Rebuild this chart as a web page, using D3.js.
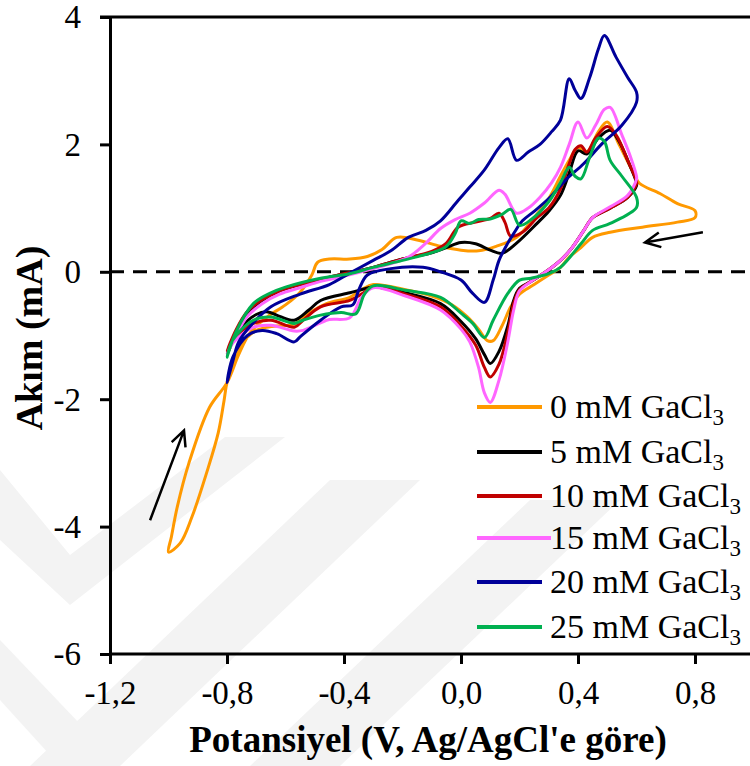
<!DOCTYPE html>
<head>
  <meta charset="utf-8">
  <script src="https://d3js.org/d3.v7.min.js"></script>
  <style>
    body { margin:0; background:#fff; }
    svg { display:block; font-family:"Liberation Serif","Times New Roman",serif; }
  </style>
</head>
<body>
<script>
// series labels / colours, in legend order
var concs = ["0", "5", "10", "15", "20", "25"];
var colors = ["#ff9900", "#000000", "#c00000", "#ff66ff", "#000099", "#00b050"];
var xTicks = [-1.2, -0.8, -0.4, 0, 0.4, 0.8];
var yTicks = [-6, -4, -2, 0, 2, 4];

// cyclic voltammograms [V, mA]
var cv0 = [[0.80,0.85],[0.74,0.78],[0.62,0.70],[0.51,0.62],[0.45,0.54],[0.41,0.38],[0.37,0.23],[0.34,0.07],[0.30,-0.05],[0.25,-0.20],[0.20,-0.35],[0.17,-0.55],[0.14,-0.85],[0.11,-1.08],[0.09,-1.08],[0.06,-0.90],[0.02,-0.70],[-0.03,-0.52],[-0.10,-0.38],[-0.19,-0.28],[-0.30,-0.20],[-0.34,-0.28],[-0.38,-0.40],[-0.46,-0.50],[-0.52,-0.65],[-0.57,-0.82],[-0.63,-0.85],[-0.70,-0.92],[-0.76,-1.20],[-0.78,-1.50],[-0.80,-1.74],[-0.81,-2.02],[-0.83,-2.53],[-0.87,-3.16],[-0.92,-3.85],[-0.96,-4.26],[-1.00,-4.40],[-0.99,-4.16],[-0.97,-3.69],[-0.93,-3.00],[-0.86,-2.13],[-0.80,-1.74],[-0.76,-1.30],[-0.72,-0.95],[-0.66,-0.70],[-0.60,-0.52],[-0.55,-0.32],[-0.51,-0.05],[-0.49,0.15],[-0.45,0.20],[-0.38,0.20],[-0.32,0.24],[-0.27,0.35],[-0.22,0.54],[-0.15,0.50],[-0.07,0.40],[0.00,0.34],[0.06,0.33],[0.12,0.40],[0.19,0.54],[0.25,0.85],[0.30,1.15],[0.34,1.50],[0.37,1.75],[0.40,1.95],[0.43,1.88],[0.47,2.20],[0.50,2.35],[0.54,2.00],[0.59,1.55],[0.61,1.39],[0.68,1.23],[0.74,1.07],[0.80,0.96]];
var cv5 = [[-0.80,-1.30],[-0.77,-0.95],[-0.73,-0.65],[-0.68,-0.45],[-0.62,-0.30],[-0.55,-0.20],[-0.48,-0.12],[-0.40,-0.03],[-0.30,0.07],[-0.20,0.20],[-0.10,0.30],[-0.05,0.38],[0.00,0.46],[0.05,0.44],[0.10,0.34],[0.14,0.29],[0.19,0.45],[0.26,0.76],[0.30,0.95],[0.34,1.20],[0.37,1.55],[0.40,1.90],[0.43,1.85],[0.47,2.10],[0.51,2.22],[0.54,2.05],[0.57,1.75],[0.60,1.40],[0.60,1.35],[0.57,1.17],[0.51,1.00],[0.45,0.85],[0.42,0.65],[0.38,0.38],[0.34,0.18],[0.29,0.00],[0.24,-0.15],[0.20,-0.26],[0.18,-0.45],[0.16,-0.85],[0.13,-1.25],[0.10,-1.44],[0.08,-1.30],[0.05,-1.05],[0.00,-0.78],[-0.07,-0.50],[-0.19,-0.33],[-0.30,-0.24],[-0.34,-0.28],[-0.38,-0.33],[-0.48,-0.45],[-0.52,-0.60],[-0.57,-0.76],[-0.62,-0.70],[-0.66,-0.63],[-0.70,-0.67],[-0.76,-0.92]];
var cv10 = [[-0.80,-1.25],[-0.77,-0.92],[-0.73,-0.62],[-0.68,-0.44],[-0.62,-0.30],[-0.55,-0.20],[-0.48,-0.12],[-0.40,-0.03],[-0.30,0.07],[-0.20,0.20],[-0.10,0.32],[-0.05,0.45],[-0.01,0.70],[0.05,0.78],[0.10,0.84],[0.13,0.92],[0.15,0.78],[0.17,0.56],[0.21,0.62],[0.26,0.85],[0.30,1.00],[0.34,1.30],[0.37,1.70],[0.39,1.92],[0.41,1.98],[0.43,1.88],[0.46,2.10],[0.50,2.28],[0.53,2.15],[0.57,1.75],[0.60,1.42],[0.60,1.38],[0.57,1.17],[0.51,1.00],[0.45,0.85],[0.42,0.65],[0.38,0.38],[0.34,0.18],[0.29,0.00],[0.24,-0.15],[0.20,-0.28],[0.18,-0.50],[0.16,-0.95],[0.13,-1.45],[0.10,-1.65],[0.08,-1.50],[0.05,-1.15],[0.00,-0.85],[-0.07,-0.55],[-0.19,-0.35],[-0.30,-0.24],[-0.34,-0.35],[-0.38,-0.45],[-0.48,-0.55],[-0.54,-0.76],[-0.57,-0.87],[-0.65,-0.76],[-0.71,-0.81],[-0.78,-1.07]];
var cv15 = [[-0.80,-1.30],[-0.77,-1.00],[-0.73,-0.70],[-0.68,-0.50],[-0.62,-0.35],[-0.55,-0.25],[-0.48,-0.15],[-0.41,-0.08],[-0.30,0.05],[-0.18,0.23],[-0.12,0.45],[-0.07,0.68],[-0.02,0.82],[0.03,0.92],[0.08,1.08],[0.13,1.28],[0.15,1.22],[0.19,0.92],[0.23,1.00],[0.27,1.17],[0.31,1.40],[0.34,1.64],[0.37,2.00],[0.40,2.35],[0.43,2.10],[0.46,2.30],[0.49,2.55],[0.51,2.58],[0.55,2.15],[0.58,1.80],[0.60,1.50],[0.60,1.45],[0.57,1.20],[0.51,1.02],[0.45,0.85],[0.42,0.65],[0.38,0.38],[0.34,0.18],[0.29,0.00],[0.24,-0.15],[0.20,-0.30],[0.18,-0.60],[0.16,-1.10],[0.13,-1.70],[0.10,-2.05],[0.08,-1.90],[0.06,-1.50],[0.03,-1.10],[0.00,-0.90],[-0.07,-0.60],[-0.19,-0.38],[-0.30,-0.25],[-0.34,-0.40],[-0.38,-0.72],[-0.45,-0.75],[-0.48,-0.80],[-0.54,-0.92],[-0.57,-0.93],[-0.65,-0.84],[-0.71,-0.87],[-0.78,-1.12]];
var cv20 = [[-0.80,-1.74],[-0.78,-1.40],[-0.76,-1.10],[-0.72,-0.85],[-0.65,-0.55],[-0.55,-0.35],[-0.45,-0.20],[-0.38,-0.02],[-0.30,0.18],[-0.24,0.33],[-0.18,0.54],[-0.12,0.65],[-0.07,0.80],[-0.01,1.12],[0.03,1.33],[0.08,1.60],[0.13,1.95],[0.16,2.09],[0.19,1.75],[0.23,1.88],[0.27,2.00],[0.31,2.20],[0.34,2.38],[0.37,3.03],[0.39,2.85],[0.41,2.72],[0.44,3.05],[0.47,3.50],[0.49,3.71],[0.53,3.37],[0.57,3.05],[0.60,2.82],[0.60,2.66],[0.55,2.30],[0.48,2.00],[0.42,1.70],[0.36,1.45],[0.30,1.15],[0.25,0.95],[0.21,0.80],[0.18,0.60],[0.16,0.45],[0.13,0.18],[0.11,-0.13],[0.08,-0.48],[0.04,-0.34],[0.00,-0.13],[-0.07,0.00],[-0.13,0.07],[-0.24,0.05],[-0.32,-0.05],[-0.35,-0.29],[-0.37,-0.52],[-0.41,-0.55],[-0.48,-0.76],[-0.55,-1.02],[-0.57,-1.10],[-0.63,-0.97],[-0.68,-0.92],[-0.73,-1.00],[-0.78,-1.34]];
var cv25 = [[-0.80,-1.34],[-0.77,-0.95],[-0.71,-0.50],[-0.65,-0.33],[-0.60,-0.24],[-0.48,-0.10],[-0.38,-0.03],[-0.30,0.07],[-0.20,0.18],[-0.10,0.30],[-0.05,0.40],[-0.02,0.60],[0.00,0.80],[0.03,0.76],[0.06,0.82],[0.10,0.83],[0.14,0.90],[0.17,0.98],[0.20,0.73],[0.24,0.82],[0.30,1.10],[0.34,1.40],[0.37,1.64],[0.39,1.50],[0.41,1.46],[0.44,1.80],[0.47,2.10],[0.49,2.05],[0.51,1.75],[0.55,1.50],[0.60,1.17],[0.60,1.01],[0.51,0.76],[0.45,0.65],[0.41,0.44],[0.34,0.07],[0.30,-0.03],[0.24,-0.10],[0.20,-0.13],[0.16,-0.34],[0.11,-0.76],[0.08,-1.03],[0.04,-0.81],[0.00,-0.65],[-0.07,-0.40],[-0.19,-0.29],[-0.30,-0.22],[-0.33,-0.35],[-0.36,-0.66],[-0.41,-0.64],[-0.48,-0.68],[-0.54,-0.76],[-0.57,-0.81],[-0.65,-0.71],[-0.71,-0.76],[-0.78,-1.07]];
var curves = [cv0, cv5, cv10, cv15, cv20, cv25];

// scan direction arrows [from, to] in data units
var arrowUp = [[-1.063, -3.90], [-0.947, -2.49]];
var arrowLeft = [[0.827, 0.62], [0.629, 0.46]];

var W = 750, H = 766;
var svg = d3.select("body").append("svg").attr("width", W).attr("height", H);

// faint watermark bands in the background
var wm = svg.append("g").attr("fill", "#f3f3f3");
[
  [[0,470],[0,540],[70,605],[285,437],[225,437],[70,555]],
  [[30,766],[120,766],[420,480],[330,480]],
  [[250,766],[340,766],[620,500],[530,500]],
  [[0,640],[0,700],[60,766],[120,766]]
].forEach(function(p){ wm.append("polygon").attr("points", p.join(" ")); });

var x = d3.scaleLinear().domain([-1.2, 1.0]).range([110, 753.5]);
var y = d3.scaleLinear().domain([-6, 4]).range([654, 17]);

var fmtX = function(v){ return (v < 0 ? "-" : "") + Math.abs(v).toFixed(1).replace(".", ","); };
var fmtY = function(v){ return (v < 0 ? "-" : "") + Math.abs(v); };

// zero line
svg.append("line")
  .attr("x1", x(-1.2)).attr("x2", W).attr("y1", y(0)).attr("y2", y(0))
  .attr("stroke", "#000").attr("stroke-width", 3).attr("stroke-dasharray", "14,9");

// curves
var line = d3.line().x(function(d){ return x(d[0]); }).y(function(d){ return y(d[1]); })
  .curve(d3.curveCatmullRomClosed.alpha(0.5));

svg.append("g").selectAll("path").data(curves).enter().append("path")
  .attr("d", line)
  .attr("fill", "none")
  .attr("stroke", function(d, i){ return colors[i]; })
  .attr("stroke-width", 3)
  .attr("stroke-linejoin", "round");

// axes
var xAxis = svg.append("g").attr("transform", "translate(0," + y(-6) + ")")
  .call(d3.axisBottom(x).tickValues(xTicks).tickFormat(fmtX).tickSize(10).tickSizeOuter(0));
var yAxis = svg.append("g").attr("transform", "translate(" + x(-1.2) + ",0)")
  .call(d3.axisLeft(y).tickValues(yTicks).tickFormat(fmtY).tickSize(10).tickSizeOuter(0));
[xAxis, yAxis].forEach(function(a){
  a.select(".domain").attr("stroke-width", 3);
  a.selectAll(".tick line").attr("stroke-width", 3);
  a.selectAll("text").attr("font-family", "Liberation Serif, serif").attr("font-size", 33).attr("fill", "#000");
});
xAxis.select(".domain").attr("d", "M110,0H" + W);
xAxis.selectAll("text").attr("dy", "1.12em");
yAxis.selectAll("text").attr("x", -29).attr("dy", "0.33em");

// top frame line
svg.append("line").attr("x1", 100).attr("x2", W).attr("y1", y(4)).attr("y2", y(4))
  .attr("stroke", "#000").attr("stroke-width", 3);

// axis titles
svg.append("text").attr("x", 428).attr("y", 752).attr("text-anchor", "middle")
  .attr("font-size", 37).attr("font-weight", "bold").text("Potansiyel (V, Ag/AgCl'e göre)");
svg.append("text").attr("transform", "translate(42,338) rotate(-90)").attr("text-anchor", "middle")
  .attr("font-size", 38).attr("font-weight", "bold").text("Akım (mA)");

// arrows
function arrow(a){
  var x0 = x(a[0][0]), y0 = y(a[0][1]), x1 = x(a[1][0]), y1 = y(a[1][1]);
  var ang = Math.atan2(y1 - y0, x1 - x0), L = 17, s = 0.45;
  var p = "M" + x0 + "," + y0 + "L" + x1 + "," + y1 +
    "M" + (x1 - L*Math.cos(ang - s)) + "," + (y1 - L*Math.sin(ang - s)) + "L" + x1 + "," + y1 +
    "L" + (x1 - L*Math.cos(ang + s)) + "," + (y1 - L*Math.sin(ang + s));
  svg.append("path").attr("d", p).attr("fill", "none").attr("stroke", "#000").attr("stroke-width", 2.5);
}
arrow(arrowUp);
arrow(arrowLeft);

// legend
var lg = svg.append("g");
var rowY = [407, 452, 496, 538, 582, 627];
concs.forEach(function(c, i){
  lg.append("line").attr("x1", 477).attr("x2", i === 3 ? 551 : 542)
    .attr("y1", rowY[i]).attr("y2", rowY[i])
    .attr("stroke", colors[i]).attr("stroke-width", 4);
  var t = lg.append("text").attr("x", 550).attr("y", rowY[i] + 11).attr("font-size", 34).attr("fill", "#000");
  t.append("tspan").text(c + " mM GaCl");
  t.append("tspan").attr("font-size", 23).attr("dy", 7).text("3");
});
</script>
</body>
</html>
